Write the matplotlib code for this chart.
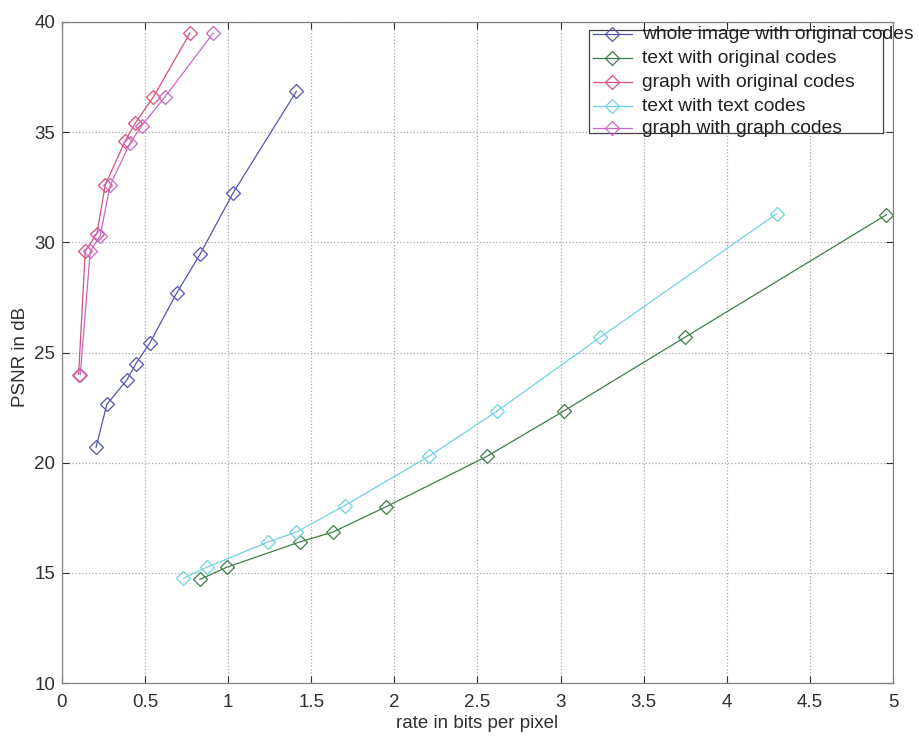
import matplotlib
matplotlib.use("Agg")
import matplotlib.pyplot as plt
from matplotlib.patches import Rectangle

plt.rcParams['font.family'] = ['Liberation Sans', 'DejaVu Sans']

# ---- data ----
whole_x = [0.205, 0.27, 0.39, 0.445, 0.53, 0.69, 0.83, 1.03, 1.41]
whole_y = [20.7, 22.65, 23.75, 24.5, 25.45, 27.7, 29.45, 32.25, 36.85]

text_orig_x = [0.83, 0.99, 1.43, 1.63, 1.95, 2.56, 3.02, 3.75, 4.96]
text_orig_y = [14.7, 15.25, 16.4, 16.85, 18.0, 20.3, 22.35, 25.7, 31.25]

graph_orig_x = [0.10, 0.14, 0.21, 0.26, 0.38, 0.44, 0.55, 0.77]
graph_orig_y = [24.0, 29.6, 30.4, 32.6, 34.6, 35.4, 36.6, 39.5]

text_text_x = [0.73, 0.87, 1.24, 1.41, 1.70, 2.21, 2.62, 3.24, 4.30]
text_text_y = [14.75, 15.25, 16.4, 16.85, 18.05, 20.3, 22.35, 25.7, 31.3]

graph_graph_x = [0.11, 0.17, 0.23, 0.29, 0.41, 0.48, 0.62, 0.91]
graph_graph_y = [24.0, 29.6, 30.3, 32.6, 34.5, 35.3, 36.6, 39.5]

labels = ["whole image with original codes", "text with original codes",
          "graph with original codes", "text with text codes",
          "graph with graph codes"]
colors = ["#5454b4", "#3f7f4a", "#d9507a", "#6fd2e0", "#c868c8"]

x_ticks = [0, 0.5, 1, 1.5, 2, 2.5, 3, 3.5, 4, 4.5, 5]
x_ticklabels = ["0", "0.5", "1", "1.5", "2", "2.5", "3", "3.5", "4", "4.5", "5"]
y_ticks = [10, 15, 20, 25, 30, 35, 40]

series = [(whole_x, whole_y), (text_orig_x, text_orig_y), (graph_orig_x, graph_orig_y),
          (text_text_x, text_text_y), (graph_graph_x, graph_graph_y)]

fig = plt.figure(figsize=(9.2, 7.37), dpi=100)
ax = fig.add_axes([62/920, 1 - 683/737, (893-62)/920, (683-22)/737])

for (xs, ys), c in zip(series, colors):
    ax.plot(xs, ys, color=c, lw=0.9, marker='D', ms=7, mfc='none', mec=c, mew=0.9)

ax.set_xlim(0, 5)
ax.set_ylim(10, 40)
ax.set_xticks(x_ticks)
ax.set_xticklabels(x_ticklabels)
ax.set_yticks(y_ticks)
ax.grid(True, linestyle=':', color='#a8a8a8', linewidth=0.9)
ax.tick_params(direction='in', top=True, right=True, length=5, width=0.8,
               labelsize=13.5, colors='#303030')
ax.tick_params(axis='x', pad=8)
ax.tick_params(axis='y', pad=5)
for s in ax.spines.values():
    s.set_color('#808080')
    s.set_linewidth(0.9)

ax.set_xlabel("rate in bits per pixel", fontsize=13.5, color='#303030', labelpad=3)
ax.set_ylabel("PSNR in dB", fontsize=13.5, color='#303030')
ax.yaxis.set_label_coords(-0.040, 0.494)

# ---- manual legend (MATLAB style, text overflowing the box) ----
def ax_x(px):
    return (px - 62) / 831
def ax_y(py):
    return (683 - py) / 660

ax.add_patch(Rectangle((ax_x(589), ax_y(134)), ax_x(883) - ax_x(589), ax_y(31) - ax_y(134),
                       transform=ax.transAxes, facecolor='white', edgecolor='#404040',
                       lw=0.9, zorder=5, clip_on=False))
entry_py = [35, 59, 83, 107, 129]
for lab, c, py in zip(labels, colors, entry_py):
    yy = ax_y(py)
    ax.plot([ax_x(593), ax_x(612), ax_x(632)], [yy, yy, yy], transform=ax.transAxes,
            color=c, lw=0.9, marker='D', ms=7, mfc='none', mec=c, mew=0.9,
            markevery=[1], zorder=6, clip_on=False)
    ax.text(ax_x(642), yy, lab, transform=ax.transAxes, fontsize=13.9, color='#202020',
            va='center', ha='left', zorder=7, clip_on=False)

fig.savefig("out.png", dpi=100)
